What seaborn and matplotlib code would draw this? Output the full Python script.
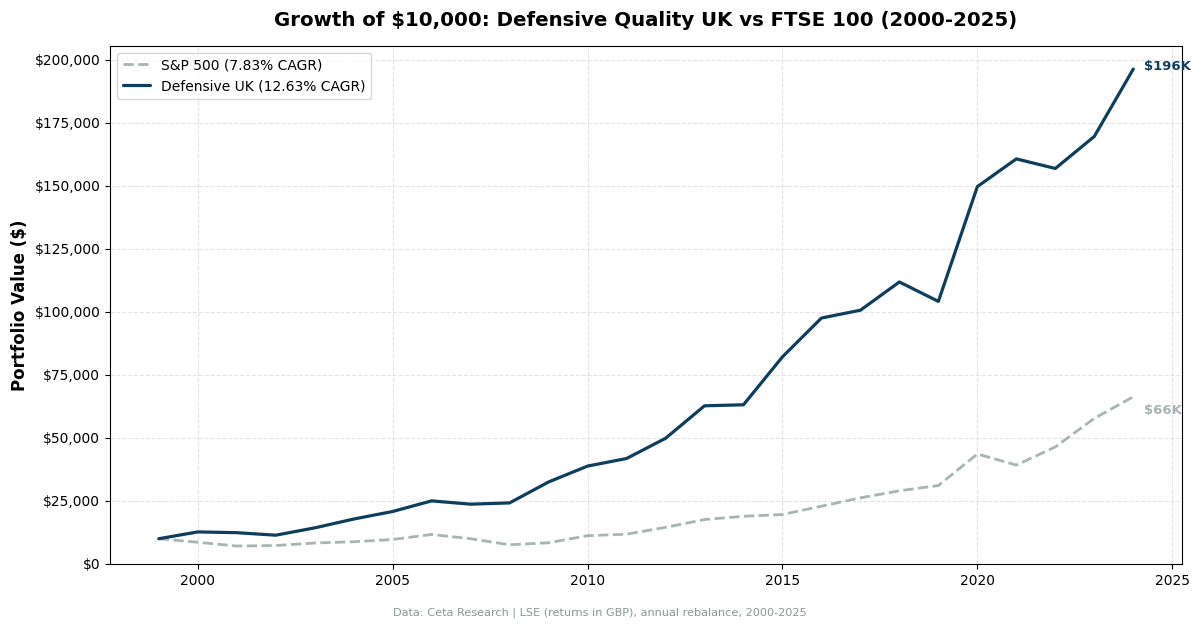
import matplotlib
matplotlib.use("Agg")
import matplotlib.pyplot as plt
import matplotlib.ticker as mticker
import seaborn as sns
import pandas as pd

years = list(range(1999, 2025))
defensive_uk = [10000, 12700, 12400, 11400, 14300, 17800, 20800, 25000, 23700, 24200,
                32500, 38800, 41800, 49800, 62700, 63100, 82100, 97500, 100600, 111800,
                104100, 149600, 160600, 156800, 169500, 196200]
sp500 = [10000, 8600, 7100, 7300, 8300, 8800, 9700, 11700, 10000, 7600,
         8400, 11200, 11800, 14500, 17600, 18900, 19600, 22900, 26200, 29000,
         31100, 43600, 39200, 46400, 57700, 66300]

label_sp = "S&P 500 (7.83% CAGR)"
label_def = "Defensive UK (12.63% CAGR)"
title = "Growth of $10,000: Defensive Quality UK vs FTSE 100 (2000-2025)"
footnote = "Data: Ceta Research | LSE (returns in GBP), annual rebalance, 2000-2025"

c_def = "#0f3d5c"
c_sp = "#a7b5b5"

sns.set_style("ticks")
plt.rcParams['font.family'] = ['DejaVu Sans']
plt.rcParams['text.color'] = 'black'
plt.rcParams['axes.labelcolor'] = 'black'
plt.rcParams['xtick.color'] = 'black'
plt.rcParams['ytick.color'] = 'black'

df = pd.DataFrame({"year": years, "Defensive": defensive_uk, "SP": sp500})

fig = plt.figure(figsize=(12, 6.28), dpi=100)
ax = fig.add_axes([0.0917, 0.102, 0.8933, 0.825])

sns.lineplot(data=df, x="year", y="SP", ax=ax, color=c_sp, linewidth=2.0,
             linestyle="--", label=label_sp)
sns.lineplot(data=df, x="year", y="Defensive", ax=ax, color=c_def, linewidth=2.3,
             label=label_def)

ax.set_ylim(0, max(defensive_uk) * 1.047)
ax.margins(x=0.05)
ax.yaxis.set_major_formatter(mticker.FuncFormatter(lambda v, p: f"${v:,.0f}"))
ax.yaxis.set_major_locator(mticker.MultipleLocator(25000))
ax.xaxis.set_major_locator(mticker.MultipleLocator(5))
ax.grid(True, linestyle="--", color="#d9d9d9", alpha=0.7, linewidth=0.8)
ax.tick_params(labelsize=10, colors="black")
for s in ax.spines.values():
    s.set_visible(True)
    s.set_color("black")

ax.set_xlabel("")
ax.set_ylabel("Portfolio Value ($)", fontsize=12, fontweight="bold", color="black")
ax.set_title(title, fontsize=14.2, fontweight="bold", pad=14, color="black")

ax.annotate(f"${defensive_uk[-1]/1000:.0f}K", (years[-1], defensive_uk[-1]),
            xytext=(8, 2), textcoords="offset points", va="center", ha="left",
            fontsize=9.5, fontweight="bold", color=c_def)
ax.annotate(f"${sp500[-1]/1000:.0f}K", (years[-1], sp500[-1]),
            xytext=(8, -10), textcoords="offset points", va="center", ha="left",
            fontsize=9.5, fontweight="bold", color=c_sp)

leg = ax.legend(loc="upper left", fontsize=10, frameon=True)
for t in leg.get_texts():
    t.set_color("black")

fig.text(0.5, 0.025, footnote, ha="center", va="center", fontsize=8.1, color="#8a9696")

fig.savefig("out.png", dpi=100)
